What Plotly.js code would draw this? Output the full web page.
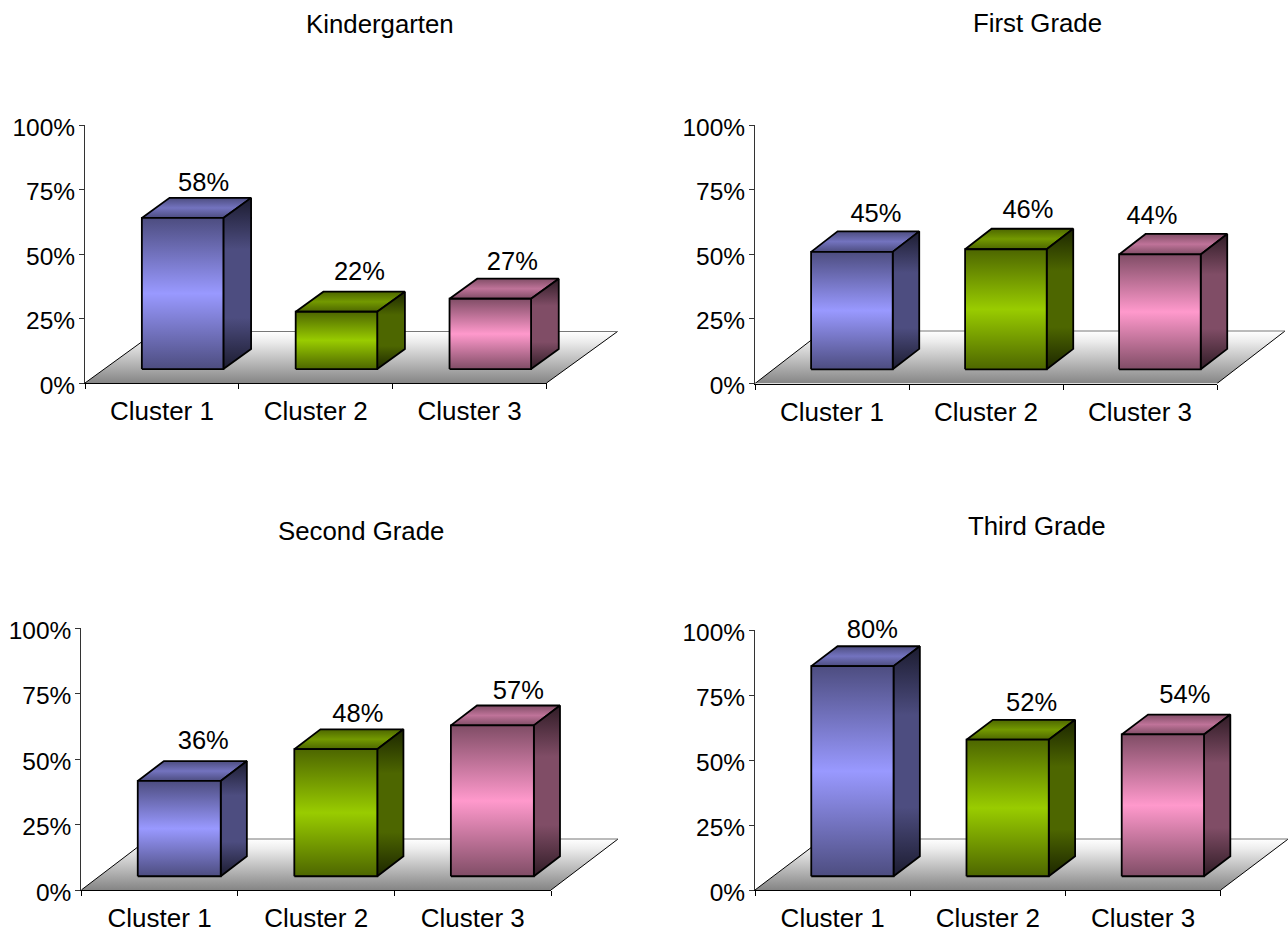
<!DOCTYPE html>
<html>
<head>
<meta charset="utf-8">
<script src="https://cdn.plot.ly/plotly-3.0.0.min.js"></script>
<style>html,body{margin:0;padding:0;background:#fff}</style>
</head>
<body>
<div id="chart" style="width:1288px;height:932px"></div>
<script>
// ---- data ----
const categories = ['Cluster 1', 'Cluster 2', 'Cluster 3'];
const kindergarten = [58, 22, 27];
const firstGrade = [45, 46, 44];
const secondGrade = [36, 48, 57];
const thirdGrade = [80, 52, 54];
const panelTitles = ['Kindergarten', 'First Grade', 'Second Grade', 'Third Grade'];
const percentTicks = [0, 25, 50, 75, 100];

// ---- layout & style ----
const W = 1288, H = 932, FS = 25.5, FONT = '"Liberation Sans", Arial, sans-serif';
const series = [kindergarten, firstGrade, secondGrade, thirdGrade];
const frames = [
  {x0: 85,   x3: 546.5, y0: 383,   y100: 125, fdx: 71, fdy: 51.5, tx: 380,  ty: 24,
   nudge: [[-1, -2], [1, 3], [0, 0]]},
  {x0: 755,  x3: 1217,  y0: 383.5, y100: 125, fdx: 68, fdy: 52.5, tx: 1037, ty: 23,
   nudge: [[2, 1], [0, 2], [-30, 1]]},
  {x0: 81.3, x3: 551,   y0: 890,   y100: 628, fdx: 67, fdy: 51,   tx: 361,  ty: 531,
   nudge: [[2, 3], [0, -1], [4, -2]]},
  {x0: 755,  x3: 1220.7,y0: 890,   y100: 630, fdx: 67.5, fdy: 51, tx: 1037, ty: 526,
   nudge: [[-2, 0], [2, 0], [0, 3]]}
];
const palette = [
  {front: ['#4d4d80', '#9999ff'], side: ['#1c1c30', '#4d4d80'], top: ['#4d4d80', '#7373bf']},
  {front: ['#4d6600', '#99cc00'], side: ['#1c2600', '#4d6600'], top: ['#4d6600', '#739900']},
  {front: ['#804d66', '#ff99cc'], side: ['#301c26', '#804d66'], top: ['#804d66', '#bf7399']}
];
const BASE_Z = 0.27, DEPTH_Z = 0.39, BAR_LEFT = 0.245, BAR_W = 0.53, HEIGHT_K = 1.01;
const LABEL_GAP = 15;
const HEADROOM = 30; // pixels of plotting room above the 100% tick for labels

const band = ([a, b]) => [[0, a], [0.5, b], [1, a]];
const sideBand = ([a, b]) => [[0, a], [0.3, b], [0.7, b], [1, a]];
const traces = [];
const layout = {
  width: W, height: H, autosize: false, showlegend: false,
  margin: {l: 0, r: 0, t: 0, b: 0},
  paper_bgcolor: '#fff', plot_bgcolor: 'rgba(0,0,0,0)',
  font: {family: FONT, size: FS, color: '#000'},
  annotations: []
};

frames.forEach((f, i) => {
  const xTick = 2 * i + 1, xGeo = 2 * i + 2, yTick = 2 * i + 1, yGeo = 2 * i + 2;
  const xa = 'x' + xTick, xg = 'x' + xGeo;
  const ya = 'y' + yTick, yg = 'y' + yGeo;
  const catW = (f.x3 - f.x0) / categories.length;
  const pxY = (f.y0 - f.y100) / 100;
  const dxUnit = f.fdx / catW, dyUnit = f.fdy / pxY;
  const vals = series[i];

  layout['xaxis' + xTick] = {
    domain: [f.x0 / W, f.x3 / W], anchor: ya, type: 'category',
    categoryorder: 'array', categoryarray: categories, tickson: 'boundaries',
    range: [-0.5, 2.5], showgrid: false, zeroline: false, showline: true, linecolor: '#000', linewidth: 1,
    ticks: 'outside', ticklen: 5, tickcolor: '#000', tickwidth: 1,
    tickfont: {family: FONT, size: 26, color: '#000'}, ticklabelstandoff: 5, fixedrange: true
  };
  layout['xaxis' + xGeo] = {
    domain: [f.x0 / W, 1], anchor: yg, range: [-0.5, -0.5 + (W - f.x0) / catW],
    visible: false, fixedrange: true
  };
  layout['yaxis' + yTick] = {
    domain: [1 - f.y0 / H, 1 - f.y100 / H], anchor: xa, range: [0, 100],
    tickmode: 'array', tickvals: percentTicks, ticktext: percentTicks.map(v => v + '%'),
    showgrid: false, zeroline: false, showline: true, linecolor: '#333', linewidth: 1,
    ticks: 'outside', ticklen: 5, tickcolor: '#333', tickwidth: 1,
    tickfont: {family: FONT, size: 24.5, color: '#000'}, ticklabelstandoff: -1, ticklabelshift: 2, fixedrange: true
  };
  layout['yaxis' + yGeo] = {
    domain: [1 - f.y0 / H, 1 - (f.y100 - HEADROOM) / H], anchor: xg,
    range: [0, 100 + HEADROOM / pxY], visible: false, fixedrange: true
  };

  // category anchor for the tick axis
  traces.push({type: 'scatter', mode: 'none', x: categories, y: vals, xaxis: xa, yaxis: ya, hoverinfo: 'skip'});

  // floor
  const fx = [-0.5, 2.5, 2.5 + dxUnit, -0.5 + dxUnit, -0.5];
  const fy = [0, 0, dyUnit, dyUnit, 0];
  traces.push({type: 'scatter', mode: 'lines', x: fx, y: fy, xaxis: xg, yaxis: yg, fill: 'toself',
    line: {width: 0}, hoverinfo: 'skip',
    fillgradient: {type: 'vertical', colorscale: [[0, '#858585'], [0.8, '#ececec'], [1, '#ffffff']]}});
  traces.push({type: 'scatter', mode: 'lines', x: [fx[0], fx[3]], y: [fy[0], fy[3]], xaxis: xg, yaxis: yg,
    line: {color: '#000', width: 1}, hoverinfo: 'skip'});
  traces.push({type: 'scatter', mode: 'lines', x: [fx[1], fx[2]], y: [fy[1], fy[2]], xaxis: xg, yaxis: yg,
    line: {color: '#000', width: 1}, hoverinfo: 'skip'});
  traces.push({type: 'scatter', mode: 'lines', x: [fx[3], fx[2]], y: [fy[3], fy[2]], xaxis: xg, yaxis: yg,
    line: {color: '#777', width: 1}, hoverinfo: 'skip'});

  const labelX = [], labelY = [], labelT = [];
  vals.forEach((v, c) => {
    const p = palette[c];
    const L = c - 0.5 + BAR_LEFT, R = L + BAR_W;
    const bx = BASE_Z * dxUnit, by = BASE_Z * dyUnit;
    const ddx = DEPTH_Z * dxUnit, ddy = DEPTH_Z * dyUnit;
    const h = v * HEIGHT_K;
    const face = (xs, ys, scale) => traces.push({
      type: 'scatter', mode: 'lines', x: xs, y: ys, xaxis: xg, yaxis: yg, fill: 'toself',
      line: {color: '#000', width: 1.8}, hoverinfo: 'skip',
      fillgradient: {type: 'vertical', colorscale: scale}
    });
    face([L + bx, R + bx, R + bx + ddx, L + bx + ddx, L + bx],
         [by + h, by + h, by + h + ddy, by + h + ddy, by + h], band(p.top));
    face([R + bx, R + bx + ddx, R + bx + ddx, R + bx, R + bx],
         [by, by + ddy, by + h + ddy, by + h, by], sideBand(p.side));
    face([L + bx, R + bx, R + bx, L + bx, L + bx],
         [by, by, by + h, by + h, by], band(p.front));

    const n = f.nudge[c];
    labelX.push((L + R) / 2 + bx + (22 + n[0]) / catW);
    labelY.push(by + h + ddy + (LABEL_GAP + n[1]) / pxY);
    labelT.push(v + '%');
  });
  traces.push({type: 'scatter', mode: 'text', x: labelX, y: labelY, text: labelT, textposition: 'middle center',
    textfont: {family: FONT, size: FS, color: '#000'}, cliponaxis: false, xaxis: xg, yaxis: yg, hoverinfo: 'skip'});

  layout.annotations.push({
    text: panelTitles[i], xref: 'paper', yref: 'paper', x: f.tx / W, y: 1 - f.ty / H,
    xanchor: 'center', yanchor: 'middle', showarrow: false, font: {family: FONT, size: 25.8, color: '#000'}
  });
});

Plotly.newPlot('chart', traces, layout, {displayModeBar: false, staticPlot: true});
</script>
</body>
</html>
